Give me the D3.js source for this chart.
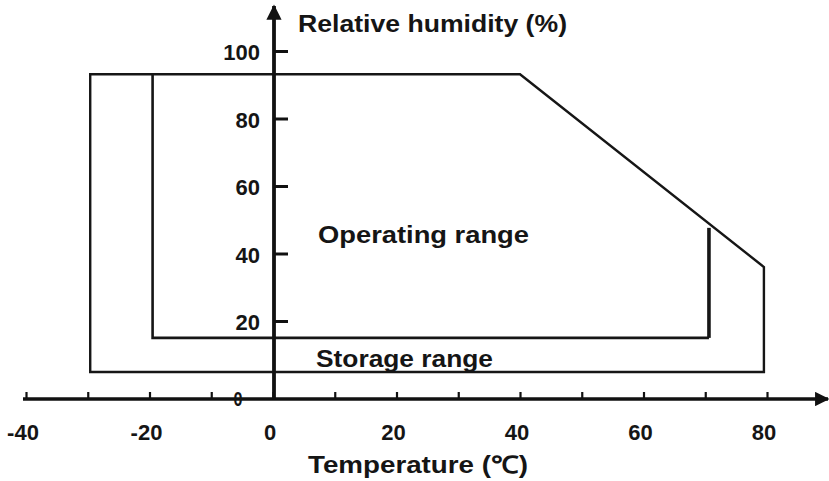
<!DOCTYPE html>
<html>
<head>
<meta charset="utf-8">
<script src="https://cdn.jsdelivr.net/npm/d3@7"></script>
<style>
  body { margin: 0; background: #fff; }
  text { font-family: "Liberation Sans", Arial, sans-serif; font-weight: bold; fill: #151515; }
</style>
</head>
<body>
<svg></svg>
<script>
var width = 829;
var height = 481;

// axis ticks and labels
var xTicks = [-40, -30, -20, -10, 0, 10, 20, 30, 40, 50, 60, 70, 80];
var xLabels = [-40, -20, 0, 20, 40, 60, 80];
var yTicks = [20, 40, 60, 80, 100];

// storage range outline (temperature, humidity)
var storageT = [-29.6, 40, 79.5, 79.5, -29.6];
var storageH = [93.1, 93.1, 36, 4.9, 4.9];

// operating range: left, bottom and right edges (top and slope are shared)
var operatingT = [-19.5, -19.5, 70.6, 70.6];
var operatingH = [93.1, 15, 15, 47.6];

var xScale = d3.scaleLinear().domain([-40, 80]).range([26, 767]);
var yScale = d3.scaleLinear().domain([0, 100]).range([388.5, 51]);

var axisY = 399;          // where the temperature axis is drawn
var axisX = xScale(0) + 1; // where the humidity axis is drawn

var svg = d3.select('svg')
  .attr('width', width)
  .attr('height', height);

var defs = svg.append('defs');
defs.append('marker')
  .attr('id', 'arrow')
  .attr('viewBox', '0 0 10 10')
  .attr('refX', 9).attr('refY', 5)
  .attr('markerWidth', 4).attr('markerHeight', 4)
  .attr('markerUnits', 'strokeWidth')
  .attr('orient', 'auto')
  .append('path')
    .attr('d', 'M0,0 L10,5 L0,10 z')
    .attr('fill', '#111');

var line = d3.line()
  .x(d => xScale(d[0]))
  .y(d => yScale(d[1]));

// storage range
svg.append('path')
  .datum(storageT.map((t, i) => [t, storageH[i]]))
  .attr('d', d => line(d) + 'Z')
  .attr('fill', 'none')
  .attr('stroke', '#161616')
  .attr('stroke-width', 2.4)
  .attr('stroke-linejoin', 'miter');

// operating range
var opPts = operatingT.map((t, i) => [t, operatingH[i]]);
svg.append('path')
  .datum(opPts.slice(0, 3))
  .attr('d', line)
  .attr('fill', 'none')
  .attr('stroke', '#161616')
  .attr('stroke-width', 2.6);
svg.append('path')
  .datum(opPts.slice(2))
  .attr('d', line)
  .attr('fill', 'none')
  .attr('stroke', '#161616')
  .attr('stroke-width', 3.6);

// temperature axis: ticks pointing up
var xAxis = d3.axisTop(xScale)
  .tickValues(xTicks)
  .tickSize(7)
  .tickSizeOuter(0)
  .tickFormat('');
var gx = svg.append('g')
  .attr('transform', 'translate(0,' + axisY + ')')
  .call(xAxis);
gx.select('.domain').remove();
gx.selectAll('.tick line').attr('stroke', '#111').attr('stroke-width', 2.2);

svg.append('line')
  .attr('x1', 23).attr('x2', 828)
  .attr('y1', axisY).attr('y2', axisY)
  .attr('stroke', '#111')
  .attr('stroke-width', 3.6)
  .attr('marker-end', 'url(#arrow)');

svg.selectAll('.xlab')
  .data(xLabels)
  .enter()
  .append('text')
    .attr('class', 'xlab')
    .attr('x', d => xScale(d) - 3)
    .attr('y', 440)
    .style('font-size', '22px')
    .style('text-anchor', 'middle')
    .text(d => d);

// humidity axis: ticks pointing right
var yAxis = d3.axisRight(yScale)
  .tickValues(yTicks)
  .tickSize(14)
  .tickSizeOuter(0)
  .tickFormat('');
var gy = svg.append('g')
  .attr('transform', 'translate(' + axisX + ',0)')
  .call(yAxis);
gy.select('.domain').remove();
gy.selectAll('.tick line').attr('stroke', '#111').attr('stroke-width', 3);

svg.append('line')
  .attr('x1', axisX).attr('x2', axisX)
  .attr('y1', axisY + 1).attr('y2', 6)
  .attr('stroke', '#111')
  .attr('stroke-width', 3.8)
  .attr('marker-end', 'url(#arrow)');

svg.selectAll('.ylab')
  .data(yTicks)
  .enter()
  .append('text')
    .attr('class', 'ylab')
    .attr('x', 260)
    .attr('y', d => yScale(d))
    .attr('dy', '0.42em')
    .style('font-size', '22px')
    .style('text-anchor', 'end')
    .text(d => d);

// the stray zero of the humidity axis
svg.append('text')
  .attr('x', 238)
  .attr('y', 406)
  .attr('textLength', 9)
  .attr('lengthAdjust', 'spacingAndGlyphs')
  .style('font-size', '21px')
  .style('text-anchor', 'middle')
  .text('0');

// labels
svg.append('text')
  .attr('x', 298).attr('y', 32)
  .attr('textLength', 269)
  .attr('lengthAdjust', 'spacingAndGlyphs')
  .style('font-size', '23px')
  .text('Relative humidity (%)');

svg.append('text')
  .attr('x', 318).attr('y', 243)
  .attr('textLength', 211)
  .attr('lengthAdjust', 'spacingAndGlyphs')
  .style('font-size', '24px')
  .text('Operating range');

svg.append('text')
  .attr('x', 316).attr('y', 367)
  .attr('textLength', 177)
  .attr('lengthAdjust', 'spacingAndGlyphs')
  .style('font-size', '23px')
  .text('Storage range');

svg.append('text')
  .attr('x', 308).attr('y', 473)
  .attr('textLength', 220)
  .attr('lengthAdjust', 'spacingAndGlyphs')
  .style('font-size', '24px')
  .text('Temperature (℃)');
</script>
</body>
</html>
